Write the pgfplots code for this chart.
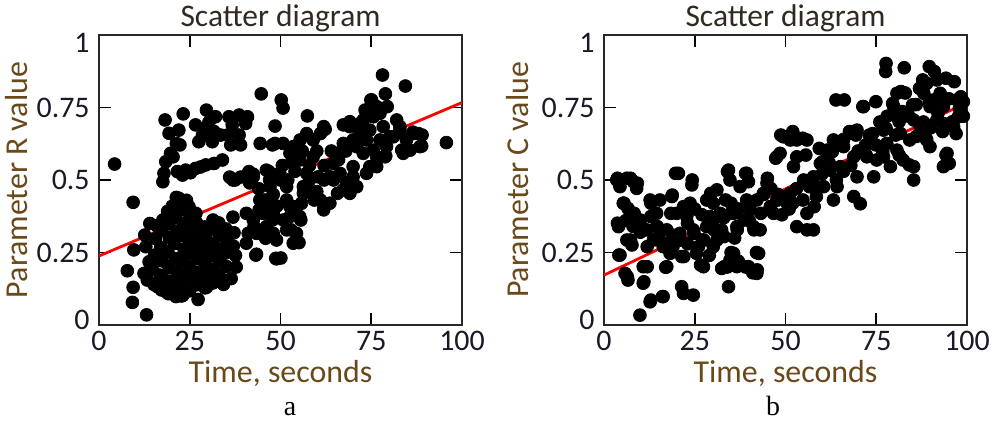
\documentclass[border=0pt]{standalone}
\usepackage{fontspec}
\setmainfont{Carlito}
\newfontfamily\subfont{Liberation Serif}
\usepackage{pgfplots}
\pgfplotsset{compat=1.18}

\definecolor{ticktext}{RGB}{25,25,40}
\definecolor{labeltext}{RGB}{105,72,25}
\definecolor{titletext}{RGB}{50,42,32}
\definecolor{framegray}{RGB}{40,40,40}
\definecolor{fitred}{RGB}{255,0,0}

\pgfplotsset{
  every axis title shift=0pt,
  scatterpanel/.style={
    scale only axis, width=181.5bp, height=145bp,
    xmin=0, xmax=100, ymin=0, ymax=1,
    xtick={0,25,50,75,100}, ytick={0,0.25,0.5,0.75,1},
    xticklabels={0,25,50,75,100},
    yticklabels={\raisebox{2.5bp}[\height][\depth]{0},0.25,0.5,0.75,\raisebox{-4bp}[\height][\depth]{1}},
    tick align=inside, major tick length=6bp,
    every tick/.style={black, line width=0.8bp},
    axis line style={framegray, line width=1bp},
    tick label style={font=\fontsize{15}{17}\selectfont, text=ticktext},
    xticklabel style={anchor=base, yshift=-12.5bp, inner sep=0pt},
    yticklabel style={anchor=east, xshift=-4.5bp, inner sep=0pt},
    title={Scatter diagram},
    title style={at={(axis description cs:0.5,1)}, anchor=base, yshift=4bp,
      inner sep=0pt, font=\fontsize{15.8}{18}\selectfont, text=titletext},
    xlabel={Time, seconds},
    xlabel style={at={(axis description cs:0.5,0)}, anchor=base, yshift=-28.5bp,
      inner sep=0pt, font=\fontsize{16}{18}\selectfont, text=labeltext},
    ylabel style={anchor=base, inner sep=0pt,
      font=\fontsize{16}{18}\selectfont, text=labeltext},
  },
  fitline/.style={fitred, line width=1.4bp, no marks},
  dots/.style={only marks, mark=*, mark size=3.2bp,
    mark options={draw=black, fill=black}},
}

\begin{document}
\begin{tikzpicture}
\path[use as bounding box] (0,0) rectangle (497.5bp,212bp);

% ---------- panel a: parameter R ----------
\begin{axis}[scatterpanel, at={(49.5bp,49.5bp)}, anchor=south west,
  ylabel={Parameter R value},
  ylabel style={at={([xshift=-36bp]axis description cs:0,0.5)}}]
\addplot[fitline] coordinates {(0,0.238) (100,0.767)};
\addplot[dots] coordinates {
(4.3,0.555) (9.4,0.423) (7.8,0.187) (9.4,0.130) (9.2,0.078) (13.1,0.035)
(27.3,0.088) (44.7,0.797) (50.2,0.776) (50.7,0.748) (48.5,0.686) (57.4,0.721)
(78.1,0.862) (78.9,0.797) (84.4,0.824) (95.7,0.629) (74.9,0.776) (79.0,0.583)
(48.9,0.228) (43.4,0.244) (55.1,0.284) (88.9,0.617)
(18.2,0.707) (23.2,0.728) (29.6,0.741) (19.3,0.661) (22.0,0.672) (22.3,0.621)
(19.7,0.592) (18.4,0.563) (17.9,0.523) (17.6,0.494) (20.4,0.580) (21.3,0.626)
(26.6,0.690) (28.5,0.655) (30.3,0.700) (32.1,0.718) (31.7,0.667) (27.5,0.632)
(31.2,0.632) (33.5,0.655) (29.4,0.678)
(35.8,0.718) (38.6,0.724) (40.9,0.718) (36.7,0.690) (35.4,0.655) (38.6,0.655)
(36.3,0.621) (39.0,0.621) (40.4,0.695)
(44.4,0.626) (48.5,0.626) (47.8,0.621) (55.4,0.638)
(23.9,0.534) (26.6,0.540) (29.4,0.552) (31.7,0.557) (34.0,0.569) (23.0,0.517)
(21.6,0.529) (25.2,0.525) (28.0,0.545) (41.3,0.529) (46.8,0.529)
(15.1,0.140) (14.8,0.192) (15.3,0.241) (15.6,0.298) (15.9,0.342)
(17.2,0.121) (16.8,0.172) (17.4,0.221) (17.0,0.268) (17.3,0.326) (17.6,0.362)
(19.1,0.108) (18.8,0.152) (19.3,0.198) (19.0,0.252) (19.4,0.301) (19.2,0.349) (18.9,0.392)
(21.2,0.098) (20.8,0.141) (21.4,0.183) (21.1,0.229) (20.7,0.281) (21.3,0.322) (21.0,0.372) (21.5,0.418)
(23.1,0.102) (22.8,0.131) (23.3,0.172) (22.9,0.219) (23.4,0.262) (23.0,0.308) (23.2,0.351) (22.7,0.398)
(25.0,0.118) (25.3,0.162) (24.8,0.203) (25.2,0.248) (24.9,0.292) (25.4,0.331) (25.1,0.372)
(27.1,0.139) (26.8,0.181) (27.3,0.228) (27.0,0.272) (27.4,0.312) (26.9,0.352)
(29.2,0.128) (28.9,0.171) (29.3,0.212) (29.0,0.258) (29.4,0.301) (29.1,0.338)
(31.0,0.148) (31.3,0.192) (30.8,0.238) (31.2,0.281) (30.9,0.329) (31.4,0.362)
(33.1,0.172) (33.3,0.219) (32.9,0.262) (33.2,0.308) (33.0,0.352)
(35.1,0.202) (34.8,0.248) (35.2,0.291) (35.0,0.331)
(37.0,0.272) (37.2,0.318) (36.9,0.372)
(37.6,0.240) (37.8,0.200) (36.4,0.160) (34.3,0.140) (12.6,0.310) (14.0,0.350)
(13.3,0.155) (12.4,0.178) (13.8,0.218) (12.9,0.270) (9.6,0.259) (16.1,0.132)
(18.4,0.115) (20.4,0.110) (22.7,0.100) (29.6,0.130) (31.4,0.145) (21.3,0.440)
(20.2,0.410) (24.1,0.430) (26.7,0.385) (22.0,0.437) (24.8,0.408)
(36.9,0.500) (36.0,0.510) (37.5,0.500) (39.0,0.510) (41.5,0.490) (42.5,0.520)
(41.1,0.523) (42.5,0.511) (40.6,0.385) (42.5,0.362) (41.1,0.316) (40.6,0.282)
(43.2,0.241) (48.7,0.230) (45.9,0.299) (47.8,0.362) (44.1,0.397) (45.9,0.431) (42.7,0.339)
(44.3,0.431) (45.2,0.385) (46.1,0.339) (48.0,0.316) (48.9,0.293) (47.1,0.477)
(46.1,0.534) (43.4,0.316) (48.0,0.385) (46.1,0.408)
(44.0,0.470) (48.0,0.450) (49.0,0.410) (50.0,0.500) (47.0,0.500)
(49.8,0.523) (51.7,0.477) (51.7,0.431) (53.5,0.408) (52.6,0.374) (51.7,0.328)
(50.7,0.626) (52.6,0.592) (53.5,0.615) (50.8,0.362) (52.6,0.408)
(50.5,0.550) (52.0,0.500) (54.0,0.530) (56.0,0.600) (58.0,0.550) (60.0,0.600)
(62.0,0.550) (64.0,0.600) (66.0,0.570) (68.0,0.600) (62.0,0.500) (58.0,0.500)
(60.0,0.460) (53.0,0.560) (57.5,0.470)
(55.3,0.569) (57.2,0.523) (56.3,0.477) (55.8,0.420) (55.3,0.374) (54.4,0.316)
(56.3,0.454) (55.6,0.362) (54.7,0.287) (53.5,0.282) (52.9,0.328) (50.1,0.231)
(59.0,0.580) (60.4,0.511) (61.0,0.431) (61.9,0.397) (63.6,0.420) (59.3,0.431)
(62.0,0.408) (65.7,0.454) (64.6,0.500) (69.4,0.466)
(59.0,0.638) (61.9,0.684) (61.0,0.660) (57.2,0.660) (62.3,0.675)
(63.6,0.511) (64.5,0.557) (65.4,0.592) (66.4,0.523) (68.2,0.489) (69.1,0.454)
(67.3,0.466) (71.0,0.477) (70.0,0.546)
(67.3,0.626) (70.0,0.638) (69.1,0.684) (71.9,0.695) (67.3,0.690) (69.1,0.701)
(73.7,0.741) (75.6,0.718) (74.6,0.672) (73.7,0.638) (72.8,0.592) (74.6,0.546)
(76.5,0.580) (77.4,0.638) (78.3,0.684) (79.2,0.615) (81.1,0.649) (82.9,0.684)
(84.7,0.638) (86.6,0.660) (86.5,0.665) (85.7,0.603) (83.8,0.592) (82.0,0.707)
(76.5,0.753) (77.4,0.730) (71.9,0.660) (71.0,0.615) (72.8,0.707) (79.4,0.753)
(76.5,0.546) (88.4,0.615) (89.0,0.655) (73.7,0.523) (70.0,0.511) (73.3,0.741)
(75.1,0.776) (76.9,0.736) (71.9,0.638) (75.6,0.603) (78.8,0.580) (83.4,0.603)
(88.0,0.660) (82.9,0.672) (80.2,0.649)
};
\end{axis}

% ---------- panel b: parameter C ----------
\begin{axis}[scatterpanel, at={(302bp,49.5bp)}, anchor=south west,
  ylabel={Parameter C value},
  ylabel style={at={([xshift=-38bp]axis description cs:0,0.5)}}]
\addplot[fitline] coordinates {(0,0.172) (100,0.767)};
\addplot[dots] coordinates {
(3.5,0.500) (6.3,0.506) (8.1,0.494) (9.0,0.471) (4.4,0.477) (3.7,0.506) (7.3,0.506)
(4.0,0.339) (5.3,0.420) (6.6,0.402) (8.1,0.385) (10.0,0.362)
(6.3,0.293) (7.7,0.276) (4.4,0.241) (5.8,0.178) (6.6,0.155) (6.4,0.167) (4.1,0.241)
(10.8,0.201) (10.8,0.144) (9.9,0.034) (12.7,0.080) (16.3,0.098) (12.9,0.086) (16.1,0.098)
(12.7,0.431) (15.4,0.431) (14.5,0.385) (11.8,0.328) (14.5,0.339) (13.6,0.293)
(16.3,0.270) (17.3,0.328) (17.3,0.201) (18.2,0.247)
(18.7,0.443) (20.5,0.523) (19.7,0.523) (20.0,0.385) (21.9,0.408) (23.7,0.420)
(22.8,0.374) (20.9,0.316) (19.0,0.270)
(21.4,0.236) (21.4,0.132) (21.9,0.109) (24.6,0.103) (24.2,0.483) (24.3,0.500)
(24.6,0.328) (27.2,0.293) (25.5,0.247) (27.4,0.201) (28.3,0.339) (29.2,0.374)
(28.3,0.431) (31.1,0.466) (30.1,0.420) (29.4,0.454)
(32.0,0.385) (32.4,0.328) (31.1,0.293) (30.1,0.270) (32.4,0.195) (34.3,0.132)
(34.3,0.534) (34.0,0.529) (34.7,0.500) (33.5,0.431)
(35.7,0.385) (36.6,0.339) (37.5,0.477) (39.3,0.523) (39.8,0.494) (39.0,0.523)
(35.7,0.247) (36.6,0.201) (34.7,0.224) (33.1,0.201)
(39.8,0.201) (42.1,0.178) (42.6,0.247) (41.2,0.339) (43.0,0.328) (40.3,0.397)
(39.3,0.431) (42.2,0.190)
(42.1,0.431) (43.9,0.454) (44.9,0.489) (45.8,0.408) (47.6,0.431) (46.7,0.385)
(47.6,0.580) (48.5,0.592) (45.0,0.506) (47.3,0.575) (48.7,0.655)
(49.4,0.649) (51.3,0.638) (50.4,0.420) (51.3,0.454) (52.2,0.546) (53.1,0.580)
(53.1,0.638) (55.9,0.638) (53.1,0.339) (55.9,0.328) (57.7,0.328) (54.8,0.431)
(56.6,0.477) (55.9,0.385)
(57.7,0.511) (59.6,0.557) (58.5,0.443) (57.9,0.408) (60.5,0.477) (61.4,0.603)
(63.2,0.638) (62.3,0.534)
(63.9,0.776) (66.2,0.776) (66.0,0.615) (65.1,0.546) (64.2,0.477) (63.2,0.431)
(67.8,0.661) (69.7,0.672) (68.8,0.580) (69.7,0.511) (68.8,0.443) (70.6,0.418)
(71.5,0.753) (71.3,0.753) (73.3,0.638) (72.4,0.580) (74.3,0.511) (74.9,0.770)
(75.1,0.569)
(77.0,0.672) (77.9,0.626) (77.0,0.580) (78.9,0.546) (77.7,0.902) (77.6,0.874)
(79.5,0.764) (79.8,0.753)
(80.7,0.799) (80.7,0.718) (81.6,0.661) (80.7,0.603) (81.8,0.805) (82.7,0.887)
(82.4,0.569) (84.2,0.638)
(85.3,0.546) (85.3,0.500) (85.0,0.759) (86.9,0.816) (87.1,0.684) (85.3,0.707)
(89.6,0.891) (91.0,0.874) (87.8,0.845) (88.9,0.833) (88.1,0.799) (89.8,0.753)
(88.9,0.638) (89.8,0.615) (89.6,0.770)
(91.7,0.845) (92.6,0.799) (94.2,0.851) (93.3,0.782) (93.5,0.753) (93.5,0.695)
(94.5,0.592) (93.5,0.546) (94.2,0.586) (95.1,0.557) (93.3,0.667)
(96.5,0.839) (97.2,0.776) (96.3,0.684) (98.2,0.741) (98.3,0.787) (97.6,0.718)
(96.0,0.701) (97.9,0.747) (91.7,0.707) (90.8,0.776)
(81.3,0.701) (80.4,0.655) (77.7,0.678) (74.9,0.621) (73.1,0.655) (69.4,0.655)
(67.6,0.667) (72.2,0.586) (76.8,0.598) (81.3,0.586) (84.1,0.552) (88.7,0.644)
(82.2,0.736) (63.9,0.621) (59.3,0.609) (54.7,0.644) (52.0,0.667) (55.6,0.586)
(60.2,0.563) (62.9,0.598)
(5.5,0.420) (9.2,0.489) (12.9,0.420) (18.8,0.448) (3.7,0.351) (7.3,0.293)
(11.9,0.270) (16.5,0.282) (21.1,0.293) (24.8,0.316) (27.5,0.293) (30.3,0.328)
(33.1,0.305) (36.7,0.328) (38.6,0.362) (34.9,0.385) (41.3,0.328) (43.2,0.385)
(45.9,0.408) (47.8,0.431) (8.3,0.385) (12.9,0.374) (18.4,0.385) (23.0,0.351)
(14.7,0.339) (11.0,0.149) (11.9,0.201) (17.0,0.199) (26.6,0.207) (22.0,0.236)
(44.0,0.450) (46.0,0.470) (48.0,0.450) (50.0,0.440) (52.0,0.420) (49.0,0.380)
(51.0,0.400) (53.0,0.470) (55.0,0.500) (58.0,0.480) (60.0,0.520) (62.0,0.560)
(64.0,0.500) (66.0,0.530) (68.0,0.550) (70.0,0.600) (72.0,0.620) (66.0,0.640)
(74.0,0.660) (76.0,0.700) (78.0,0.720) (84.0,0.720) (86.0,0.760) (83.0,0.800)
(86.0,0.650) (88.0,0.700) (90.0,0.680) (92.0,0.730) (95.0,0.780) (99.0,0.770)
(97.0,0.660) (99.0,0.720)
(30.0,0.360) (27.0,0.380) (25.0,0.400) (35.0,0.420) (37.0,0.400) (40.0,0.360)
(33.0,0.370) (26.0,0.270) (29.0,0.240) (23.0,0.280) (19.0,0.310) (15.0,0.300)
(10.0,0.320) (8.0,0.340) (6.0,0.360)
(34.0,0.200) (35.0,0.250) (37.0,0.220) (39.0,0.200) (41.0,0.180) (42.0,0.250)
(36.0,0.300)
};
\end{axis}

\node[anchor=base, font=\subfont\fontsize{14}{16}\selectfont] at (145bp,4.5bp) {a};
\node[anchor=base, font=\subfont\fontsize{14}{16}\selectfont] at (386.5bp,4.5bp) {b};
\end{tikzpicture}
\end{document}
